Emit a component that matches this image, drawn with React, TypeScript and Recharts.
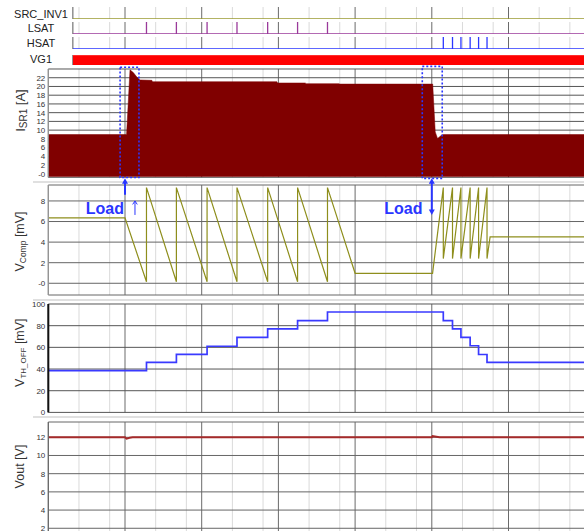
import React from "react";
import {
  ComposedChart,
  Line,
  Area,
  XAxis,
  YAxis,
  CartesianGrid,
  ReferenceArea,
  ReferenceLine,
  ReferenceDot,
} from "recharts";

// ---------- data (time axis in major divisions, 0..7) ----------
const MAJOR_TICKS = [1, 2, 3, 4, 5, 6];
const MINOR_TICKS = Array.from({ length: 34 }, (_, i) => +((i + 1) * 0.2).toFixed(1)).filter(
  (v) => Math.abs(v - Math.round(v)) > 1e-6
);

// digital rows
const ROW_NAMES = ["SRC_INV1", "LSAT", "HSAT", "VG1"];
const DIGITAL_T = [0.32, 7];
const SRC_INV1_LEVEL = [0, 0];
const VG1_LEVEL = [1, 1];
const LSAT_PULSES = [1.28, 1.67, 2.07, 2.46, 2.86, 3.25, 3.64];
const HSAT_PULSES = [5.15, 5.27, 5.38, 5.5, 5.61, 5.72];

// I_SR1 [A] envelope
const ISR_T = [0, 1.0, 1.02, 1.065, 1.108, 1.152, 1.195, 1.35, 1.36, 2.98, 2.99, 3.35, 3.36, 3.79, 3.8, 5.012, 5.045, 5.075, 5.13, 5.15, 7];
const ISR_HIGH = [9, 9, 9, 23.8, 23.2, 22.2, 21.5, 21.4, 21.1, 21.1, 20.8, 20.8, 20.65, 20.65, 20.55, 20.55, 9.6, 8.1, 8.9, 9.0, 9.0];
const ISR_LOW = [-0.6, -0.6, -0.6, -0.6, -0.6, -0.6, -0.6, -0.6, -0.6, -0.6, -0.6, -0.6, -0.6, -0.6, -0.6, -0.6, -0.6, -0.6, -0.6, -0.6, -0.6];
const ISR_TICKS = [0, 2, 4, 6, 8, 10, 12, 14, 16, 18, 20, 22];

// V_Comp [mV]
const VCOMP_T = [0, 1.0, 1.28, 1.28, 1.67, 1.67, 2.07, 2.07, 2.46, 2.46, 2.86, 2.86, 3.25, 3.25, 3.64, 3.64, 4.0, 5.01, 5.15, 5.15, 5.27, 5.27, 5.38, 5.38, 5.5, 5.5, 5.61, 5.61, 5.72, 5.72, 5.76, 7];
const VCOMP_V = [6.35, 6.35, 0.15, 9.3, 0.15, 9.3, 0.15, 9.3, 0.15, 9.3, 0.15, 9.3, 0.15, 9.3, 0.15, 9.3, 0.97, 0.97, 9.3, 2.4, 9.3, 2.4, 9.3, 2.4, 9.3, 2.4, 9.3, 2.4, 9.3, 2.4, 4.5, 4.5];
const VCOMP_TICKS = [0, 2, 4, 6, 8];

// V_TH_OFF [mV]
const VTH_T = [0, 1.28, 1.67, 2.07, 2.46, 2.86, 3.25, 3.64, 5.15, 5.27, 5.38, 5.5, 5.61, 5.72, 7];
const VTH_V = [38.5, 46.2, 53.6, 61, 69.2, 77, 84.6, 92.6, 84.6, 77, 69.2, 61.5, 53.4, 46.2, 46.2];
const VTH_TICKS = [0, 20, 40, 60, 80, 100];

// Vout [V]
const VOUT_T = [0, 1.0, 1.02, 1.06, 1.1, 5.0, 5.01, 5.06, 5.1, 7];
const VOUT_V = [12, 12, 11.85, 11.95, 12, 12, 12.12, 12.05, 12, 12];
const VOUT_TICKS = [2, 4, 6, 8, 10, 12];

// annotations
const LOAD_BOXES = [
  { t1: 0.936, t2: 1.182, lo: -0.85, hi: 24.4 },
  { t1: 4.876, t2: 5.136, lo: -1.05, hi: 24.6 },
];
const LOAD_TEXT = [
  { t: 0.987, v: 6.7, text: "Load" },
  { t: 4.878, v: 6.7, text: "Load" },
];

// ---------- layout ----------
const FONT = "Arial, 'Liberation Sans', sans-serif";
const CHART_W = 586;
const AXIS_LEFT = 8.3;
const AXIS_W = 40;
const RIGHT = 0.8;
const BLUE = "#2a36ff";

const pulseData = (pulses: number[]) => {
  const pts: { t: number; v: number }[] = [{ t: DIGITAL_T[0], v: 0 }];
  pulses.forEach((p) => {
    pts.push({ t: p, v: 0 }, { t: p, v: 1 }, { t: p, v: 0 });
  });
  pts.push({ t: DIGITAL_T[1], v: 0 });
  return pts;
};

const isrData = ISR_T.map((t, i) => ({ t, r: [ISR_LOW[i], ISR_HIGH[i]] }));
const vcompData = VCOMP_T.map((t, i) => ({ t, v: VCOMP_V[i] }));
const vthData = VTH_T.map((t, i) => ({ t, v: VTH_V[i] }));
const voutData = VOUT_T.map((t, i) => ({ t, v: VOUT_V[i] }));

const zeroFmt = (v: number) => (v === 0 ? "-0" : String(v));

const axisTitle =
  (main: string, sub: string, unit: string, dy: number, mainSize: number, subSize: number) =>
  (props: any) => {
    const vb = props.viewBox || { x: 8, y: 0, width: 40, height: 100 };
    const cx = vb.x + 12;
    const cy = vb.y + vb.height / 2 + dy;
    return (
      <text
        x={cx}
        y={cy}
        transform={`rotate(-90 ${cx} ${cy})`}
        textAnchor="middle"
        dominantBaseline="central"
        fontFamily={FONT}
        fontSize={mainSize}
        fill="#333"
      >
        <tspan>{main}</tspan>
        {sub ? (
          <tspan fontSize={subSize} dy={3}>
            {sub}
          </tspan>
        ) : null}
        <tspan dy={sub ? -3 : 0}>{" " + unit}</tspan>
      </text>
    );
  };

const arrowShape = (double: boolean, thick: boolean) => (props: any) => {
  const { x1, y1, y2 } = props;
  const x = x1;
  const top = Math.min(y1, y2);
  const bot = Math.max(y1, y2);
  const hw = thick ? 3 : 2.3;
  const hl = thick ? 5.5 : 3.5;
  const sw = thick ? 2 : 1;
  return (
    <g>
      <line x1={x} x2={x} y1={thick ? top + hl - 1 : top} y2={double ? bot - hl + 1 : bot} stroke={BLUE} strokeWidth={sw} />
      {thick ? (
        <polygon points={`${x - hw},${top + hl} ${x},${top} ${x + hw},${top + hl}`} fill={BLUE} />
      ) : (
        <polyline points={`${x - hw},${top + hl} ${x},${top} ${x + hw},${top + hl}`} fill="none" stroke={BLUE} strokeWidth={1} />
      )}
      {double ? <polygon points={`${x - hw},${bot - hl} ${x},${bot} ${x + hw},${bot - hl}`} fill={BLUE} /> : null}
    </g>
  );
};

const textShape = (label: string) => (props: any) => (
  <text x={props.cx} y={props.cy} textAnchor="end" fontFamily={FONT} fontWeight="bold" fontSize={16} fill={BLUE}>
    {label}
  </text>
);

type PanelProps = {
  top: number;
  plotH: number;
  mTop?: number;
  mBottom?: number;
  data: any[];
  domain: [number, number];
  ticks: number[];
  fmt?: (v: number) => string;
  axisStroke: string;
  axisWidth: number;
  hGrid: string;
  title: (p: any) => any;
  children?: any;
};

function Panel(p: PanelProps) {
  const mTop = p.mTop ?? 6;
  const mBottom = p.mBottom ?? 6;
  return (
    <div style={{ position: "absolute", left: 0, top: p.top - mTop }}>
      <ComposedChart
        width={CHART_W}
        height={p.plotH + mTop + mBottom}
        data={p.data}
        margin={{ top: mTop, bottom: mBottom, left: AXIS_LEFT, right: RIGHT }}
      >
        <XAxis xAxisId="m" dataKey="t" type="number" domain={[0, 7]} ticks={MINOR_TICKS} hide allowDataOverflow />
        <XAxis xAxisId="M" dataKey="t" type="number" domain={[0, 7]} ticks={MAJOR_TICKS} hide allowDataOverflow />
        <YAxis
          type="number"
          domain={p.domain}
          ticks={p.ticks}
          interval={0}
          allowDataOverflow
          width={AXIS_W}
          tickLine={false}
          tickSize={0}
          tickMargin={3}
          axisLine={{ stroke: p.axisStroke, strokeWidth: p.axisWidth }}
          tick={{ fontSize: 8, fill: "#333", fontFamily: FONT }}
          tickFormatter={p.fmt}
          label={p.title}
        />
        <CartesianGrid xAxisId="m" horizontal={false} stroke="#dadada" />
        <CartesianGrid xAxisId="M" horizontal={false} stroke="#6a6a6a" />
        <CartesianGrid xAxisId="m" vertical={false} stroke={p.hGrid} />
        {p.children}
      </ComposedChart>
    </div>
  );
}

type RowProps = { top: number; plotH: number; data: any[]; children?: any };

function Row(p: RowProps) {
  const m = 2;
  return (
    <div style={{ position: "absolute", left: 0, top: p.top - m }}>
      <ComposedChart
        width={CHART_W}
        height={p.plotH + 2 * m}
        data={p.data}
        margin={{ top: m, bottom: m, left: 72.85, right: RIGHT }}
      >
        <XAxis
          xAxisId="m"
          dataKey="t"
          type="number"
          domain={[DIGITAL_T[0], DIGITAL_T[1]]}
          ticks={MINOR_TICKS.filter((v) => v > DIGITAL_T[0])}
          hide
          allowDataOverflow
        />
        <XAxis xAxisId="M" dataKey="t" type="number" domain={[DIGITAL_T[0], DIGITAL_T[1]]} ticks={MAJOR_TICKS} hide allowDataOverflow />
        <YAxis hide domain={[0, 1]} type="number" allowDataOverflow />
        <CartesianGrid xAxisId="m" horizontal={false} stroke="#dadada" />
        <CartesianGrid xAxisId="M" horizontal={false} stroke="#6a6a6a" />
        {p.children}
      </ComposedChart>
    </div>
  );
}

const ROW_CENTERS = [14, 28.3, 43.3, 59];

export default function App() {
  return (
    <div
      style={{
        position: "absolute",
        left: 0,
        top: 0,
        width: 584,
        height: 531,
        overflow: "hidden",
        background: "#fff",
        fontFamily: FONT,
      }}
    >
      {/* panel separators */}
      <div style={{ position: "absolute", left: 33, right: 0, top: 180.8, height: 2, background: "#e0e0e0" }} />
      <div style={{ position: "absolute", left: 33, right: 0, top: 298.5, height: 2.2, background: "#e0e0e0" }} />
      <div style={{ position: "absolute", left: 33, right: 0, top: 416, height: 2, background: "#e0e0e0" }} />

      {/* digital row labels */}
      <svg style={{ position: "absolute", left: 0, top: 0 }} width={73} height={70}>
        {ROW_NAMES.map((n, i) => (
          <text key={n} x={41} y={ROW_CENTERS[i]} textAnchor="middle" dominantBaseline="central" fontSize={11} fontFamily={FONT} fill="#222">
            {n}
          </text>
        ))}
      </svg>

      <Row top={7} plotH={12} data={DIGITAL_T.map((t, i) => ({ t, v: SRC_INV1_LEVEL[i] }))}>
        <Line xAxisId="m" dataKey="v" type="linear" stroke="#9a9a30" strokeWidth={1.3} dot={false} activeDot={false} isAnimationActive={false} />
      </Row>
      <Row top={22} plotH={12} data={pulseData(LSAT_PULSES)}>
        <Line xAxisId="m" dataKey="v" type="linear" stroke="#9a3a9a" strokeWidth={1.3} dot={false} activeDot={false} isAnimationActive={false} />
      </Row>
      <Row top={37} plotH={12} data={pulseData(HSAT_PULSES)}>
        <Line xAxisId="m" dataKey="v" type="linear" stroke="#2a36ff" strokeWidth={1.3} dot={false} activeDot={false} isAnimationActive={false} />
      </Row>
      <Row top={55} plotH={10} data={DIGITAL_T.map((t, i) => ({ t, v: VG1_LEVEL[i] }))}>
        <Area xAxisId="m" dataKey="v" type="linear" baseValue={0} stroke="#ff7070" strokeWidth={0.8} fill="#ff0000" fillOpacity={1} dot={false} activeDot={false} isAnimationActive={false} />
      </Row>

      <Panel
        top={68.5}
        plotH={108.3}
        data={isrData}
        domain={[-0.8, 24]}
        ticks={ISR_TICKS}
        fmt={zeroFmt}
        axisStroke="#999"
        axisWidth={1}
        hGrid="#555"
        title={axisTitle("I", "SR1", "[A]", -12.6, 13, 10)}
      >
        <Area xAxisId="m" dataKey="r" type="linear" stroke="#800000" strokeWidth={0.5} fill="#800000" fillOpacity={1} dot={false} activeDot={false} isAnimationActive={false} />
        {LOAD_BOXES.map((b, i) => (
          <ReferenceArea
            key={"box" + i}
            xAxisId="m"
            x1={b.t1}
            x2={b.t2}
            y1={b.lo}
            y2={b.hi}
            ifOverflow="visible"
            fill="none"
            fillOpacity={0}
            stroke={BLUE}
            strokeWidth={1.6}
            strokeDasharray="2 2"
          />
        ))}
      </Panel>

      <Panel
        top={185}
        plotH={110}
        mTop={10}
        data={vcompData}
        domain={[-1.14, 9.55]}
        ticks={VCOMP_TICKS}
        fmt={zeroFmt}
        axisStroke="#999"
        axisWidth={1}
        hGrid="#666"
        title={axisTitle("V", "Comp", "[mV]", 1.5, 12.5, 8.5)}
      >
        <Line xAxisId="m" dataKey="v" type="linear" stroke="#8e8e1c" strokeWidth={1.2} dot={false} activeDot={false} isAnimationActive={false} />
        <ReferenceLine xAxisId="m" segment={[{ x: 1.0, y: 8.6 }, { x: 1.0, y: 10.2 }]} ifOverflow="visible" shape={arrowShape(false, true)} />
        <ReferenceLine xAxisId="m" segment={[{ x: 1.13, y: 6.64 }, { x: 1.13, y: 8.0 }]} ifOverflow="visible" shape={arrowShape(false, false)} />
        <ReferenceLine xAxisId="m" segment={[{ x: 5.0, y: 6.64 }, { x: 5.0, y: 10.2 }]} ifOverflow="visible" shape={arrowShape(true, true)} />
        {LOAD_TEXT.map((l, i) => (
          <ReferenceDot key={"lt" + i} xAxisId="m" x={l.t} y={l.v} r={0} ifOverflow="visible" shape={textShape(l.text)} />
        ))}
      </Panel>

      <Panel
        top={304.3}
        plotH={108.4}
        data={vthData}
        domain={[0, 100]}
        ticks={VTH_TICKS}
        axisStroke="#111"
        axisWidth={2}
        hGrid="#555"
        title={axisTitle("V", "TH_OFF", "[mV]", -5.5, 12.5, 8)}
      >
        <Line xAxisId="m" dataKey="v" type="stepAfter" stroke="#3a3aff" strokeWidth={1.7} dot={false} activeDot={false} isAnimationActive={false} />
      </Panel>

      <Panel
        top={422}
        plotH={111}
        data={voutData}
        domain={[1.48, 13.68]}
        ticks={VOUT_TICKS}
        axisStroke="#666"
        axisWidth={1}
        hGrid="#666"
        title={axisTitle("Vout", "", "[V]", -11, 12.5, 8)}
      >
        <Line xAxisId="m" dataKey="v" type="linear" stroke="#a52a2a" strokeWidth={2} dot={false} activeDot={false} isAnimationActive={false} />
      </Panel>
    </div>
  );
}
